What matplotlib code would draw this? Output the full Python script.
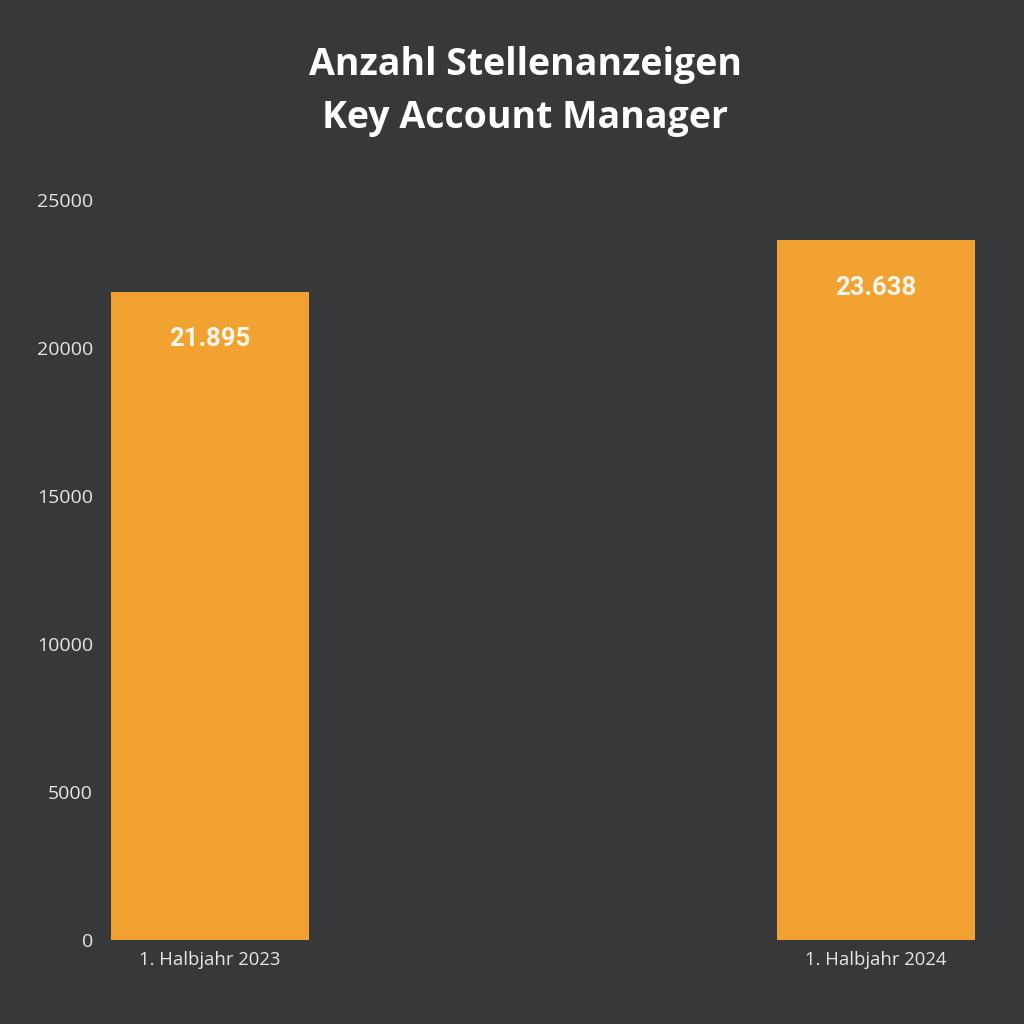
import matplotlib.pyplot as plt

categories = ['1. Halbjahr 2023', '1. Halbjahr 2024']
values = [21895, 23638]
value_labels = ['21.895', '23.638']

bg = '#37383a'
bar_color = '#f2a231'

fig = plt.figure(figsize=(10.24, 10.24), dpi=100, facecolor=bg)
ax = fig.add_axes([0.0977, 0.082, 0.864, 0.7227])
ax.set_facecolor(bg)

x = list(range(len(categories)))
ax.bar(x, values, width=0.298, color=bar_color)

for xi, v, lab in zip(x, values, value_labels):
    ax.annotate(lab, (xi, v), xytext=(0, -34), textcoords='offset points',
                ha='center', va='center', color='#fdf6ec', fontsize=18.5,
                fontweight='bold', family='Roboto')

ax.set_xlim(-0.165, 1.163)
ax.set_ylim(0, 25000)
ax.set_yticks([0, 5000, 10000, 15000, 20000, 25000])
ax.set_xticks(x)
ax.set_xticklabels(categories)
ax.tick_params(axis='y', length=0, colors='#e6e6e6', labelsize=14, pad=5)
ax.tick_params(axis='x', length=0, colors='#e6e6e6', labelsize=13.3, pad=8)
for lbl in ax.get_xticklabels() + ax.get_yticklabels():
    lbl.set_family('Open Sans')
for s in ax.spines.values():
    s.set_visible(False)

fig.text(0.513, 0.9105, 'Anzahl Stellenanzeigen\nKey Account Manager', ha='center',
         va='center', color='white', fontsize=27, fontweight='bold',
         family='Open Sans', linespacing=1.5)

fig.savefig('out.png', dpi=100, facecolor=bg)
